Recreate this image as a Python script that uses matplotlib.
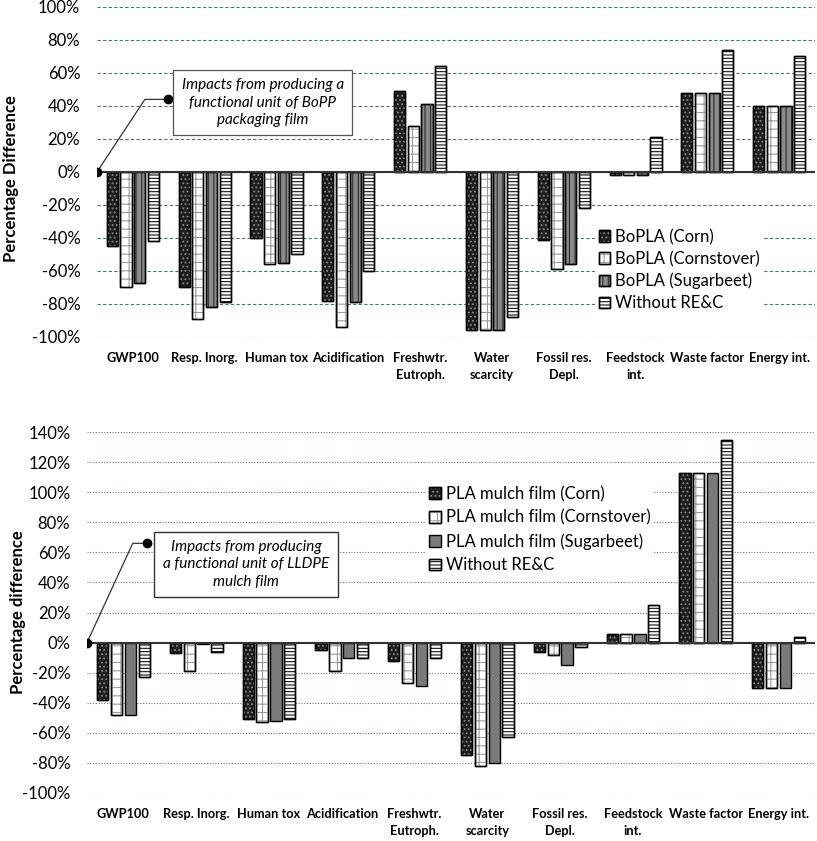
import matplotlib
matplotlib.use("Agg")
import matplotlib.pyplot as plt
import numpy as np
from matplotlib.legend_handler import HandlerTuple

plt.rcParams['font.family'] = ['Lato', 'DejaVu Sans']
plt.rcParams['hatch.linewidth'] = 0.8

categories = ["GWP100", "Resp. Inorg.", "Human tox", "Acidification", "Freshwtr.\nEutroph.",
              "Water\nscarcity", "Fossil res.\nDepl.", "Feedstock\nint.", "Waste factor", "Energy int."]

# Top chart: BoPLA vs BoPP (%)
top_corn = [-45, -70, -40, -78, 49, -96, -41, -2, 48, 40]
top_stover = [-70, -89, -56, -94, 28, -96, -59, -2, 48, 40]
top_beet = [-67, -82, -55, -79, 41, -96, -56, -2, 48, 40]
top_without = [-42, -79, -50, -60, 64, -88, -22, 21, 74, 70]
top_names = ["BoPLA (Corn)", "BoPLA (Cornstover)", "BoPLA (Sugarbeet)", "Without RE&C"]

# Bottom chart: PLA mulch film vs LLDPE (%)
bot_corn = [-38, -7, -51, -5, -12, -75, -6, 6, 113, -30]
bot_stover = [-48, -19, -53, -19, -27, -82, -8, 6, 113, -30]
bot_beet = [-48, -1, -52, -10, -29, -80, -15, 6, 113, -30]
bot_without = [-23, -6, -51, -10, -10, -63, -3, 25, 135, 4]
bot_names = ["PLA mulch film (Corn)", "PLA mulch film (Cornstover)",
             "PLA mulch film (Sugarbeet)", "Without RE&C"]

fig = plt.figure(figsize=(8.17, 8.41), dpi=100)
ax1 = fig.add_axes([0.1187, 0.5993, 0.879, 0.3924])
ax2 = fig.add_axes([0.1065, 0.0571, 0.891, 0.4292])

x = np.arange(len(categories))
w = 0.155
step = 0.19
offsets = [-1.5 * step, -0.5 * step, 0.5 * step, 1.5 * step]


def styles(bottom):
    corn = dict(face='#1e1e1e', hatch='....', hcol='#8a8a8a')
    stover = dict(face='white', hatch='++', hcol='#9a9a9a')
    if bottom:
        beet = dict(face='#7a7a7a', hatch=None, hcol=None)
    else:
        beet = dict(face='#8a8a8a', hatch='|||', hcol='#2e2e2e')
    without = dict(face='white', hatch='-----', hcol='#111111')
    return [corn, stover, beet, without]


def draw(ax, series, names, bottom):
    handles = []
    for vals, off, st, name in zip(series, offsets, styles(bottom), names):
        b1 = ax.bar(x + off, vals, w, color=st['face'], edgecolor='black', linewidth=1.0, zorder=3)
        parts = [b1[0]]
        if st['hatch']:
            b2 = ax.bar(x + off, vals, w, color='none', edgecolor=st['hcol'], hatch=st['hatch'],
                        linewidth=0, zorder=4)
            b3 = ax.bar(x + off, vals, w, color='none', edgecolor='black', linewidth=1.0, zorder=5)
            parts = [b1[0], b2[0], b3[0]]
        handles.append(tuple(parts))
    ax.axhline(0, color='#333333', lw=1.5, zorder=6)
    ax.set_xlim(-0.5, len(categories) - 0.5)
    ax.set_xticks(x)
    ax.set_xticklabels(categories, fontweight='bold', fontsize=9.2, linespacing=1.45, va='top')
    ax.tick_params(axis='x', length=0, pad=11)
    ax.tick_params(axis='y', length=0, labelsize=12, pad=12)
    for s in ax.spines.values():
        s.set_visible(False)
    ax.yaxis.set_major_formatter(plt.FuncFormatter(lambda v, p: f"{v:.0f}%"))
    return handles


hmap = {tuple: HandlerTuple(ndivide=1, pad=0)}

h1 = draw(ax1, [top_corn, top_stover, top_beet, top_without], top_names, False)
ax1.set_ylim(-100, 100)
ax1.set_yticks(np.arange(-100, 101, 20))
ax1.grid(axis='y', color='#56706f', linestyle=(0, (3, 2)), linewidth=0.8, zorder=0)
ax1.set_ylabel("Percentage Difference", fontweight='bold', fontsize=12)
ax1.yaxis.set_label_coords(-0.108, 0.48)
leg1 = ax1.legend(h1, top_names, handler_map=hmap,
                  loc='upper left', bbox_to_anchor=(0.693, 0.34), frameon=True, framealpha=1,
                  edgecolor='none', fontsize=12, handlelength=0.7, handleheight=0.7,
                  handletextpad=0.3, labelspacing=0.35, borderpad=0.25, borderaxespad=0)
leg1.set_zorder(10)
# annotation
ax1.plot([-0.5, 0.167, 0.486], [0, 44, 44], color='#333333', lw=0.9, zorder=7)
ax1.plot([-0.5, 0.486], [0, 44], 'o', color='black', ms=6, zorder=8, linestyle='none')
ax1.text(1.806, 42, "Impacts from producing a\nfunctional unit of BoPP\npackaging film", ha='center',
         va='center', style='italic', fontsize=11, linespacing=1.3, zorder=9,
         bbox=dict(boxstyle='square,pad=0.55', facecolor='white', edgecolor='#555555', lw=0.9))

h2 = draw(ax2, [bot_corn, bot_stover, bot_beet, bot_without], bot_names, True)
ax2.set_ylim(-100, 140)
ax2.set_yticks(np.arange(-100, 141, 20))
ax2.grid(axis='y', color='#667777', linestyle=(0, (1, 1.5)), linewidth=0.8, zorder=0)
ax2.set_ylabel("Percentage difference", fontweight='bold', fontsize=12)
ax2.yaxis.set_label_coords(-0.084, 0.5)
leg2 = ax2.legend(h2, bot_names, handler_map=hmap,
                  loc='upper left', bbox_to_anchor=(0.465, 0.86), frameon=True, framealpha=1,
                  edgecolor='none', fontsize=12, handlelength=0.7, handleheight=0.7,
                  handletextpad=0.3, labelspacing=0.45, borderpad=0.2, borderaxespad=0)
leg2.set_zorder(10)
ax2.plot([-0.5, 0.128, 0.32], [0, 66, 66], color='#333333', lw=0.9, zorder=7)
ax2.plot([-0.5, 0.32], [0, 66], 'o', color='black', ms=6, zorder=8, linestyle='none')
ax2.text(1.684, 52, "Impacts from producing\na functional unit of LLDPE\nmulch film", ha='center',
         va='center', style='italic', fontsize=11, linespacing=1.3, zorder=9,
         bbox=dict(boxstyle='square,pad=0.55', facecolor='white', edgecolor='#333333', lw=1.0))

fig.savefig("out.png", dpi=100)
